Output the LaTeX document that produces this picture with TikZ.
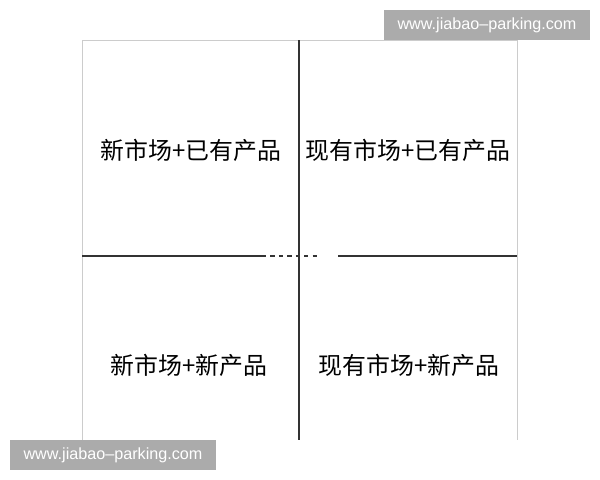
\documentclass[tikz,border=0pt]{standalone}
\usepackage{fontspec}
\setmainfont{Liberation Sans}
\newfontfamily\cjk{Noto Sans CJK SC}
\begin{document}
\begin{tikzpicture}[x=0.025cm, y=-0.025cm]
    \tikzstyle{quadrant}=[font=\cjk\fontsize{17}{20}\selectfont, inner sep=0pt]
    \tikzstyle{frame}=[draw=black!20, line width=0.6pt]
    \tikzstyle{axis}=[draw=black!80, line width=1.3pt]
    \tikzstyle{watermark}=[fill=black!33, text=white, minimum width=5.15cm, minimum height=0.75cm, inner sep=0pt, font=\fontsize{11.5}{14}\selectfont]

    \fill [white] (0,0) rectangle (600,480);
    \useasboundingbox (0,0) rectangle (600,480);

    % corners and ends
    \coordinate (nw) at (82,40);
    \coordinate (ne) at (517,40);
    \coordinate (sw) at (82,440);
    \coordinate (se) at (517,440);
    \coordinate (n) at (299,40);
    \coordinate (s) at (299,440);
    \coordinate (w) at (82,256);
    \coordinate (e) at (517,256);
    \coordinate (gap1) at (262,256);
    \coordinate (gap2) at (318,256);
    \coordinate (gap3) at (338,256);

    % draw frame and axes
    \draw [frame] (sw) -- (nw) -- (ne) -- (se);
    \draw [axis] (n) -- (s);
    \draw [axis] (w) -- (gap1);
    \draw [axis, dashed] (gap1) -- (gap2);
    \draw [axis] (gap3) -- (e);

    % draw text
    \foreach \t/\x/\y [count=\i] in {新市场+已有产品/191/150, 现有市场+已有产品/408/150, 新市场+新产品/189/365, 现有市场+新产品/409/365}
    \node [quadrant] (quad-\i) at (\x,\y) {\t};

    \node [watermark] (mark-top) at (487,25) {www.jiabao--parking.com};
    \node [watermark] (mark-bottom) at (113,455) {www.jiabao--parking.com};

\end{tikzpicture}
\end{document}
